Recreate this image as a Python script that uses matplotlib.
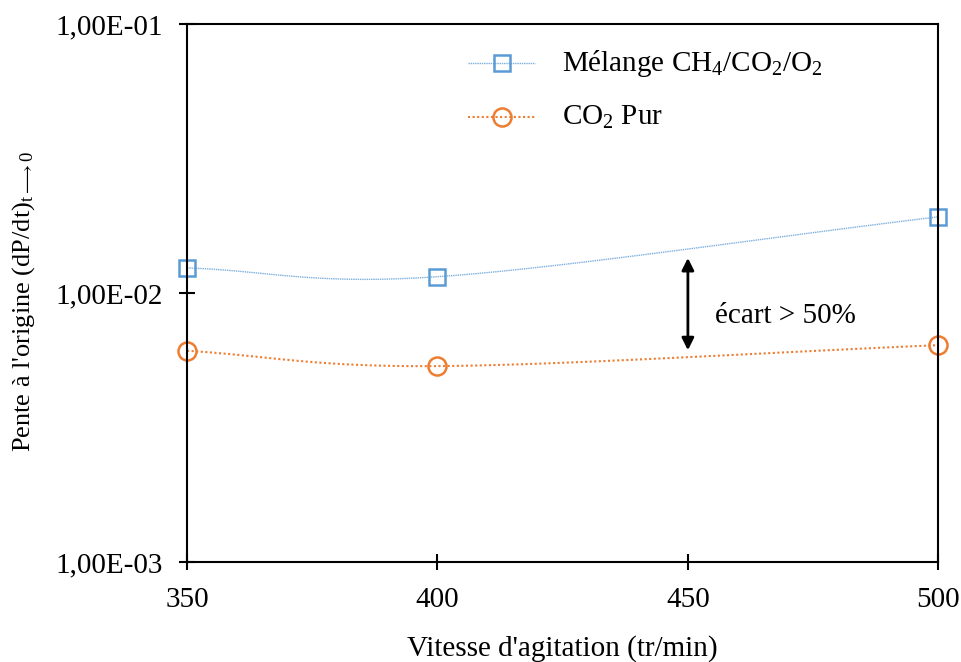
import numpy as np
import matplotlib.pyplot as plt

plt.rcParams['font.family'] = ['Liberation Serif', 'DejaVu Serif']
plt.rcParams['mathtext.fontset'] = 'custom'
plt.rcParams['mathtext.rm'] = 'Liberation Serif'
plt.rcParams['mathtext.it'] = 'Liberation Serif'
plt.rcParams['mathtext.default'] = 'rm'

vitesse = [350, 400, 500]
melange = [0.0124, 0.0115, 0.0192]
co2_pur = [0.0061, 0.00535, 0.0064]
yticks = [1e-3, 1e-2, 1e-1]
ytick_labels = ['1,00E-03', '1,00E-02', '1,00E-01']
xticks = [350, 400, 450, 500]

blue = '#5B9BD5'
orange = '#ED7D31'
fs = 21


def smooth(x, y, n=60):
    # Catmull-Rom through the points, in log space (like Excel's smoothed line)
    x = np.asarray(x, float)
    y = np.log10(np.asarray(y, float))
    px = np.concatenate([[2 * x[0] - x[1]], x, [2 * x[-1] - x[-2]]])
    py = np.concatenate([[2 * y[0] - y[1]], y, [2 * y[-1] - y[-2]]])
    xs, ys = [], []
    t = np.linspace(0, 1, n)
    for i in range(1, len(px) - 2):
        for p, out in ((px, xs), (py, ys)):
            p0, p1, p2, p3 = p[i - 1], p[i], p[i + 1], p[i + 2]
            out.extend(0.5 * ((2 * p1) + (-p0 + p2) * t
                              + (2 * p0 - 5 * p1 + 4 * p2 - p3) * t ** 2
                              + (-p0 + 3 * p1 - 3 * p2 + p3) * t ** 3))
    return np.array(xs), 10 ** np.array(ys)


fig = plt.figure(figsize=(9.62, 6.62), dpi=100)
ax = fig.add_axes([0.1944, 0.151, 0.781, 0.8127])

blue_ls = dict(color=blue, lw=1.0, ls=(0, (1, 0.6)), alpha=0.8)
orange_ls = dict(color=orange, lw=1.5, ls=(0, (1, 1.2)))
blue_mk = dict(marker='s', ms=12, mfc='none', mec=blue, mew=1.8)
orange_mk = dict(marker='o', ms=13, mfc='none', mec=orange, mew=1.8)

sx, sy = smooth(vitesse, melange)
ax.plot(sx, sy, **blue_ls)
sx, sy = smooth(vitesse, co2_pur)
ax.plot(sx, sy, **orange_ls)
ax.plot(vitesse, melange, ls='none', clip_on=False, **blue_mk)
ax.plot(vitesse, co2_pur, ls='none', clip_on=False, **orange_mk)

ax.set_yscale('log')
ax.set_xlim(350, 500)
ax.set_ylim(1e-3, 1e-1)
ax.set_xticks(xticks)
ax.set_yticks(yticks)
ax.set_yticklabels(ytick_labels)
ax.yaxis.set_minor_locator(plt.NullLocator())
ax.tick_params(direction='inout', length=12, width=1.5, labelsize=fs,
               color='black')
ax.tick_params(axis='x', pad=12)
ax.tick_params(axis='y', pad=11.5)
for s in ax.spines.values():
    s.set_linewidth(1.5)

ax.set_xlabel("Vitesse d'agitation (tr/min)", fontsize=fs, labelpad=16)
fig.text(24 / 962, 0.545, r"Pente à l'origine (dP/dt)$_{t\longrightarrow 0}$",
         fontsize=19, rotation=90, ha='center', va='center')

# legend drawn by hand to match layout
for yy, ls, mk in ((0.9275, blue_ls, blue_mk), (0.827, orange_ls, orange_mk)):
    ax.plot([0.374, 0.463], [yy, yy], transform=ax.transAxes, **ls)
    ax.plot([0.419], [yy], transform=ax.transAxes, **mk)
ax.text(0.499, 0.9275, r'Mélange CH$_4$/CO$_2$/O$_2$', transform=ax.transAxes,
        fontsize=fs, va='center', ha='left')
ax.text(0.499, 0.827, r'CO$_2$ Pur', transform=ax.transAxes,
        fontsize=fs, va='center', ha='left')

ax.annotate('', xy=(450, 0.0135), xytext=(450, 0.00613),
            arrowprops=dict(arrowstyle='<|-|>', color='black', lw=2,
                            mutation_scale=18, shrinkA=0, shrinkB=0))
ax.text(455.5, 0.0082, 'écart > 50%', fontsize=fs, va='center', ha='left')

fig.savefig('out.png', dpi=100)
